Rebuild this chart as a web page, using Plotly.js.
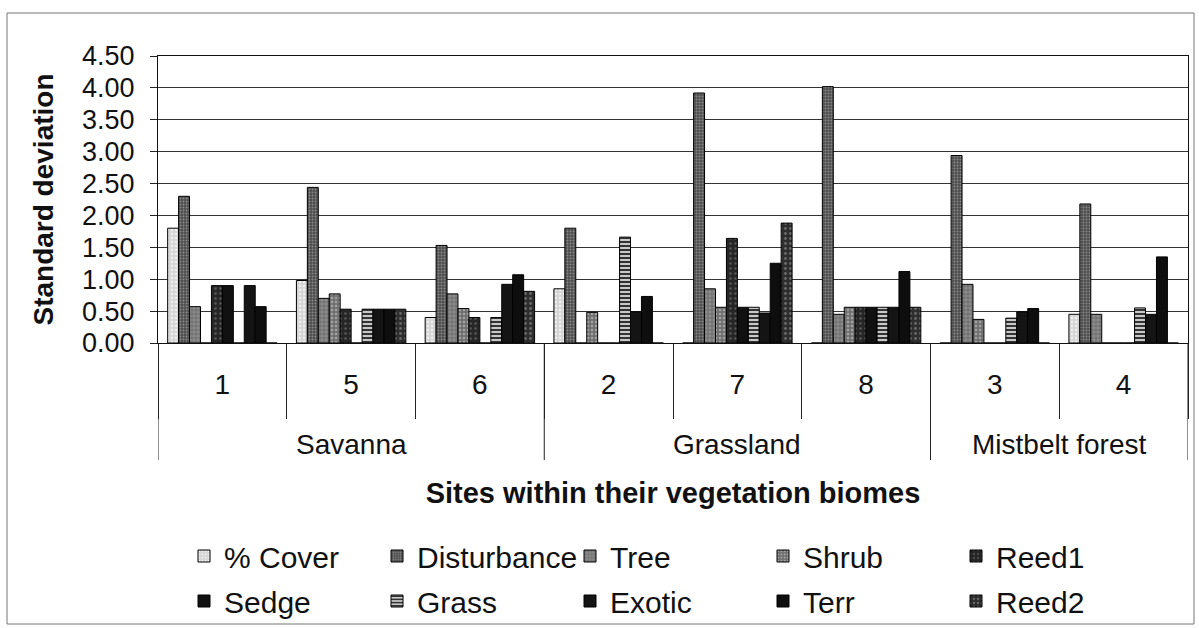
<!DOCTYPE html>
<html>
<head>
<meta charset="utf-8">
<script src="https://cdn.plot.ly/plotly-3.0.1.min.js"></script>
<style>
  html, body { margin: 0; padding: 0; background: #fff; }
  #chart { width: 1199px; height: 628px; }
</style>
</head>
<body>
<div id="chart"></div>
<script>
// ---- data ----
const sites  = ['1', '5', '6', '2', '7', '8', '3', '4'];
const biomes = ['Savanna', 'Savanna', 'Savanna', 'Grassland', 'Grassland', 'Grassland', 'Mistbelt forest', 'Mistbelt forest'];

const seriesNames = ['% Cover', 'Disturbance', 'Tree', 'Shrub', 'Reed1', 'Sedge', 'Grass', 'Exotic', 'Terr', 'Reed2'];

const cover       = [1.80, 0.98, 0.40, 0.85, 0.00, 0.00, 0.00, 0.45];
const disturbance = [2.30, 2.44, 1.53, 1.80, 3.92, 4.02, 2.94, 2.18];
const tree        = [0.57, 0.70, 0.77, 0.00, 0.85, 0.45, 0.92, 0.45];
const shrub       = [0.00, 0.77, 0.54, 0.48, 0.56, 0.56, 0.37, 0.00];
const reed1       = [0.90, 0.53, 0.40, 0.00, 1.64, 0.56, 0.00, 0.00];
const sedge       = [0.90, 0.00, 0.00, 0.00, 0.56, 0.56, 0.00, 0.00];
const grass       = [0.00, 0.53, 0.40, 1.66, 0.56, 0.56, 0.39, 0.55];
const exotic      = [0.90, 0.53, 0.92, 0.49, 0.47, 0.56, 0.49, 0.45];
const terr        = [0.57, 0.53, 1.07, 0.73, 1.25, 1.12, 0.54, 1.35];
const reed2       = [0.00, 0.53, 0.81, 0.00, 1.88, 0.56, 0.00, 0.00];

const seriesValues = [cover, disturbance, tree, shrub, reed1, sedge, grass, exotic, terr, reed2];

// ---- styles ----
const styles = [
  {color: '#d6d6d6', pattern: {shape: '.', bgcolor: '#d6d6d6', fgcolor: '#f2f2f2', size: 4, solidity: 0.25}},
  {color: '#4e4e4e', pattern: {shape: '.', bgcolor: '#4e4e4e', fgcolor: '#8a8a8a', size: 3, solidity: 0.3}},
  {color: '#8c8c8c', pattern: {shape: '+', bgcolor: '#8c8c8c', fgcolor: '#5e5e5e', size: 4, solidity: 0.3}},
  {color: '#707070', pattern: {shape: '.', bgcolor: '#707070', fgcolor: '#a4a4a4', size: 4, solidity: 0.3}},
  {color: '#262626', pattern: {shape: '.', bgcolor: '#262626', fgcolor: '#585858', size: 5, solidity: 0.2}},
  {color: '#111111', pattern: {shape: ''}},
  {color: '#c8c8c8', pattern: {shape: '-', bgcolor: '#c8c8c8', fgcolor: '#222222', size: 4, solidity: 0.45}},
  {color: '#141414', pattern: {shape: ''}},
  {color: '#0e0e0e', pattern: {shape: ''}},
  {color: '#2e2e2e', pattern: {shape: '.', bgcolor: '#2e2e2e', fgcolor: '#6a6a6a', size: 5, solidity: 0.25}}
];

const FONT = 'Liberation Sans, Arial, Helvetica, sans-serif';

const traces = seriesNames.map((name, i) => ({
  type: 'bar',
  name: name,
  x: sites,
  y: seriesValues[i],
  legend: i < 5 ? 'legend' : 'legend2',
  marker: {
    color: styles[i].color,
    pattern: styles[i].pattern,
    line: {color: '#000', width: 1}
  },
  hoverinfo: 'x+y+name'
}));

// biome groups from data
const groups = [];
biomes.forEach((b, i) => {
  if (!groups.length || groups[groups.length - 1].name !== b) groups.push({name: b, start: i, end: i});
  else groups[groups.length - 1].end = i;
});

const plotTop = 56, plotBottom = 343, plotH = plotBottom - plotTop;
const py = px => (plotBottom - px) / plotH;   // pixel row -> paper fraction

const annotations = groups.map(g => ({
  xref: 'x', yref: 'paper',
  x: (g.start + g.end) / 2, y: py(444),
  text: g.name, showarrow: false,
  xanchor: 'center', yanchor: 'middle',
  font: {family: FONT, size: 28, color: '#111'}
}));

const shapes = [];
groups.forEach((g, k) => {
  if (k === 0) shapes.push({type: 'line', xref: 'x', yref: 'paper', x0: g.start - 0.5, x1: g.start - 0.5, y0: 0, y1: py(460), line: {color: '#222', width: 1}});
  shapes.push({type: 'line', xref: 'x', yref: 'paper', x0: g.end + 0.5, x1: g.end + 0.5, y0: 0, y1: py(460), line: {color: '#222', width: 1}});
});
// outer chart border
shapes.push({type: 'rect', xref: 'paper', yref: 'paper',
  x0: (7 - 158) / 1030, x1: (1194 - 158) / 1030, y0: py(624), y1: py(13),
  line: {color: '#777', width: 1}, fillcolor: 'rgba(0,0,0,0)', layer: 'below'});

const legendCommon = {
  orientation: 'h', xref: 'container', yref: 'container',
  xanchor: 'left', yanchor: 'middle',
  entrywidth: 148, entrywidthmode: 'pixels', itemwidth: 30,
  bgcolor: 'rgba(0,0,0,0)', borderwidth: 0,
  font: {family: FONT, size: 30, color: '#111'},
  traceorder: 'normal'
};

const layout = {
  width: 1199, height: 628,
  margin: {l: 158, r: 11, t: 56, b: 285},
  paper_bgcolor: '#fff', plot_bgcolor: '#fff',
  font: {family: FONT, color: '#111'},
  barmode: 'group', bargap: 0.15, bargroupgap: 0,
  showlegend: true,
  legend: Object.assign({}, legendCommon, {x: 184 / 1199, y: (628 - 556) / 628}),
  legend2: Object.assign({}, legendCommon, {x: 184 / 1199, y: (628 - 601) / 628}),
  xaxis: {
    type: 'category',
    range: [-0.5, sites.length - 0.5],
    showline: true, linecolor: '#111', linewidth: 1, mirror: true,
    ticks: 'outside', tickson: 'boundaries', ticklen: 75, tickcolor: '#222', tickwidth: 1,
    ticklabelstandoff: 16,
    tickfont: {family: FONT, size: 28, color: '#111'},
    showgrid: false,
    title: {text: '<b>Sites within their vegetation biomes</b>', font: {family: FONT, size: 29, color: '#111'}, standoff: 84}
  },
  yaxis: {
    range: [0, 4.5], dtick: 0.5, tick0: 0, tickformat: '.2f',
    showline: true, linecolor: '#111', linewidth: 1, mirror: true,
    ticks: 'outside', ticklen: 7, tickcolor: '#222',
    tickfont: {family: FONT, size: 27, color: '#111'},
    ticklabelstandoff: 10,
    showgrid: true, gridcolor: '#333', gridwidth: 1,
    zeroline: false,
    title: {text: '<b>Standard deviation</b>', font: {family: FONT, size: 28, color: '#111'}, standoff: 20}
  },
  annotations: annotations,
  shapes: shapes
};

Plotly.newPlot('chart', traces, layout, {staticPlot: true, displayModeBar: false});
</script>
</body>
</html>
